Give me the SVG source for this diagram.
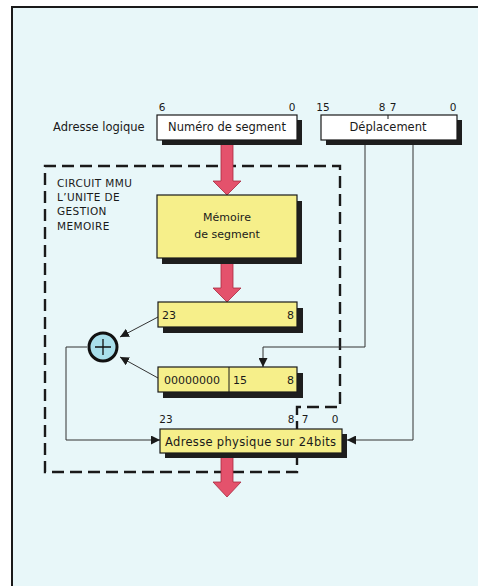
<svg xmlns="http://www.w3.org/2000/svg" width="478" height="586" viewBox="0 0 478 586">
<style>
.t{font-family:"DejaVu Sans","Liberation Sans",sans-serif;fill:#1a1a1a}
.box{stroke:#1a1a1a;stroke-width:1.2}
.w{fill:#ffffff}
.y{fill:#f6ef8a}
.sh{fill:#1e1e1e}
.red{fill:#e4526c;stroke:#a8283f;stroke-width:0.8}
.ln{fill:none;stroke:#333;stroke-width:1}
.dash{fill:none;stroke:#1a1a1a;stroke-width:2.4;stroke-dasharray:12 6}
</style>
<defs>
<marker id="ah" viewBox="0 0 10 10" refX="10" refY="5" markerWidth="9" markerHeight="9" markerUnits="userSpaceOnUse" orient="auto">
<path d="M0,0 L10,5 L0,10 z" fill="#1a1a1a"/>
</marker>
</defs>
<rect x="0" y="0" width="478" height="586" fill="#ffffff"/>
<rect x="12" y="7" width="470" height="590" fill="#e8f7f9"/>
<path d="M12 586 L12 7 L478 7" fill="none" stroke="#1a1a1a" stroke-width="2"/>

<g id="mmu-boundary">
<path class="dash" d="M297 453 L297 472 L45 472 L45 166 L340 166 L340 407 L297 407 L297 429"/>
<text class="t" x="57" y="187" font-size="10.5" letter-spacing="0.4">CIRCUIT MMU</text>
<text class="t" x="57" y="201" font-size="10.5" letter-spacing="0.4">L’UNITE DE</text>
<text class="t" x="57" y="215" font-size="10.5" letter-spacing="0.4">GESTION</text>
<text class="t" x="57" y="230" font-size="10.5" letter-spacing="0.4">MEMOIRE</text>
</g>

<g id="connectors">
<path class="red" d="M221 140 L233 140 L233 181 L241 181 L227 195 L213 181 L221 181 z"/>
<path class="red" d="M221 258 L233 258 L233 288 L241 288 L227 302 L213 288 L221 288 z"/>
<path class="red" d="M221 453 L233 453 L233 482 L241 482 L227 497 L213 482 L221 482 z"/>
<path class="ln" d="M365 144 L365 347 L263 347 L263 367" marker-end="url(#ah)"/>
<path class="ln" d="M413 144 L413 440 L347 440" marker-end="url(#ah)"/>
<path class="ln" d="M87 347 L66 347 L66 440 L160 440" marker-end="url(#ah)"/>
<path class="ln" d="M158 317 L120 337" marker-end="url(#ah)"/>
<path class="ln" d="M158 378 L120 357" marker-end="url(#ah)"/>
</g>

<g id="adresse-logique">
<text class="t" x="53" y="131" font-size="11.5">Adresse logique</text>
</g>

<g id="numero-segment">
<rect class="sh" x="162" y="120" width="140" height="25"/>
<rect class="box w" x="157" y="115" width="140" height="25"/>
<text class="t" x="227" y="131" font-size="11.5" text-anchor="middle">Numéro de segment</text>
<text class="t" x="162" y="111" font-size="10.5" text-anchor="middle">6</text>
<text class="t" x="292" y="111" font-size="10.5" text-anchor="middle">0</text>
</g>

<g id="deplacement">
<rect class="sh" x="326" y="120" width="136" height="25"/>
<rect class="box w" x="321" y="115" width="136" height="25"/>
<line x1="388" y1="115" x2="388" y2="119" stroke="#1a1a1a" stroke-width="1"/>
<text class="t" x="388" y="131" font-size="11.5" text-anchor="middle">Déplacement</text>
<text class="t" x="323" y="111" font-size="10.5" text-anchor="middle">15</text>
<text class="t" x="382" y="111" font-size="10.5" text-anchor="middle">8</text>
<text class="t" x="393" y="111" font-size="10.5" text-anchor="middle">7</text>
<text class="t" x="453" y="111" font-size="10.5" text-anchor="middle">0</text>
</g>

<g id="memoire-segment">
<rect class="sh" x="162" y="201" width="140" height="63"/>
<rect class="box y" x="157" y="195" width="140" height="63"/>
<text class="t" x="227" y="221" font-size="11" text-anchor="middle">Mémoire</text>
<text class="t" x="227" y="238" font-size="11" text-anchor="middle">de segment</text>
</g>

<g id="registre-23-8">
<rect class="sh" x="163" y="308" width="140" height="25"/>
<rect class="box y" x="158" y="302" width="139" height="25"/>
<text class="t" x="162" y="319" font-size="11">23</text>
<text class="t" x="294" y="319" font-size="11" text-anchor="end">8</text>
</g>

<g id="additionneur">
<circle cx="103" cy="347" r="14" fill="#a9dfeb" stroke="#111" stroke-width="3"/>
<path d="M95 347 L111 347 M103 339 L103 355" stroke="#111" stroke-width="1.3"/>
</g>

<g id="registre-deplacement">
<rect class="sh" x="163" y="373" width="140" height="25"/>
<rect class="box y" x="158" y="367" width="139" height="25"/>
<line x1="229" y1="367" x2="229" y2="392" stroke="#1a1a1a" stroke-width="1"/>
<text class="t" x="164" y="384" font-size="11">00000000</text>
<text class="t" x="233" y="384" font-size="11">15</text>
<text class="t" x="294" y="384" font-size="11" text-anchor="end">8</text>
</g>

<g id="adresse-physique">
<rect class="sh" x="165" y="434" width="182" height="24"/>
<rect class="box y" x="160" y="429" width="182" height="24"/>
<text class="t" x="165" y="446" font-size="11.5" textLength="171" lengthAdjust="spacing">Adresse physique sur 24bits</text>
<text class="t" x="166" y="423" font-size="10.5" text-anchor="middle">23</text>
<text class="t" x="291" y="423" font-size="10.5" text-anchor="middle">8</text>
<text class="t" x="305" y="423" font-size="10.5" text-anchor="middle">7</text>
<text class="t" x="335" y="423" font-size="10.5" text-anchor="middle">0</text>
</g>
</svg>
